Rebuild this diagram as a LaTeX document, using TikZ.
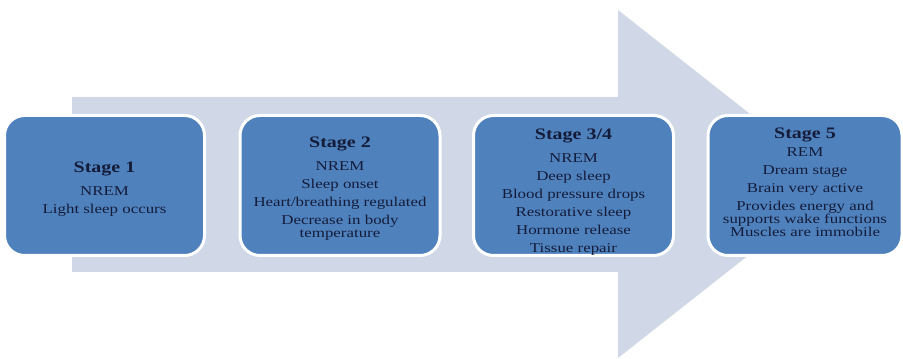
\documentclass[tikz,border=0pt]{standalone}
\usepackage{fontspec}
\setmainfont{Liberation Serif}[FakeStretch=1.25]

\definecolor{stageblue}{RGB}{79,129,189}
\definecolor{arrowgray}{RGB}{208,215,230}
\definecolor{textnavy}{RGB}{20,28,58}

\tikzset{
  stagebox/.style={draw=white, line width=3pt, fill=stageblue, rounded corners=20pt,
    minimum width=200pt, minimum height=140pt},
  stagetext/.style={align=center, text=textnavy, inner sep=0pt,
    font=\fontsize{13.5}{18}\selectfont}
}
\newcommand\stagehead[2][5pt]{{\fontsize{16}{18}\selectfont\bfseries #2}\\[#1]}

\begin{document}
\begin{tikzpicture}[x=1pt, y=1pt]

  \useasboundingbox (0,0) rectangle (903,359);

  %% big arrow behind the stages
  \fill[arrowgray] (72,87) -- (72,262) -- (618,262) -- (618,349)
    -- (839,175) -- (618,1) -- (618,87) -- cycle;

  \node[stagebox] (s1) at (104.5,173.5) {};
  \node[stagebox] (s2) at (340,173.5) {};
  \node[stagebox] (s3) at (573.5,173.5) {};
  \node[stagebox, minimum width=194pt] (s4) at (805,173.5) {};

  \node[stagetext] (t1) at ([yshift=-4pt]s1.center)
    {\stagehead{Stage 1}NREM\\Light sleep occurs};
  \node[stagetext] (t2) at ([yshift=-3.5pt]s2.center)
    {\stagehead{Stage 2}NREM\\Sleep onset\\Heart/breathing regulated\\Decrease in body\\[-5pt]temperature};
  \node[stagetext] (t3) at ([yshift=-6.5pt]s3.center)
    {\stagehead{Stage 3/4}NREM\\Deep sleep\\Blood pressure drops\\Restorative sleep\\Hormone release\\Tissue repair};
  \node[stagetext] (t4) at ([yshift=3pt]s4.center)
    {\stagehead[0pt]{Stage 5}REM\\Dream stage\\Brain very active\\Provides energy and\\[-5pt]supports wake functions\\[-5pt]Muscles are immobile};

\end{tikzpicture}
\end{document}
